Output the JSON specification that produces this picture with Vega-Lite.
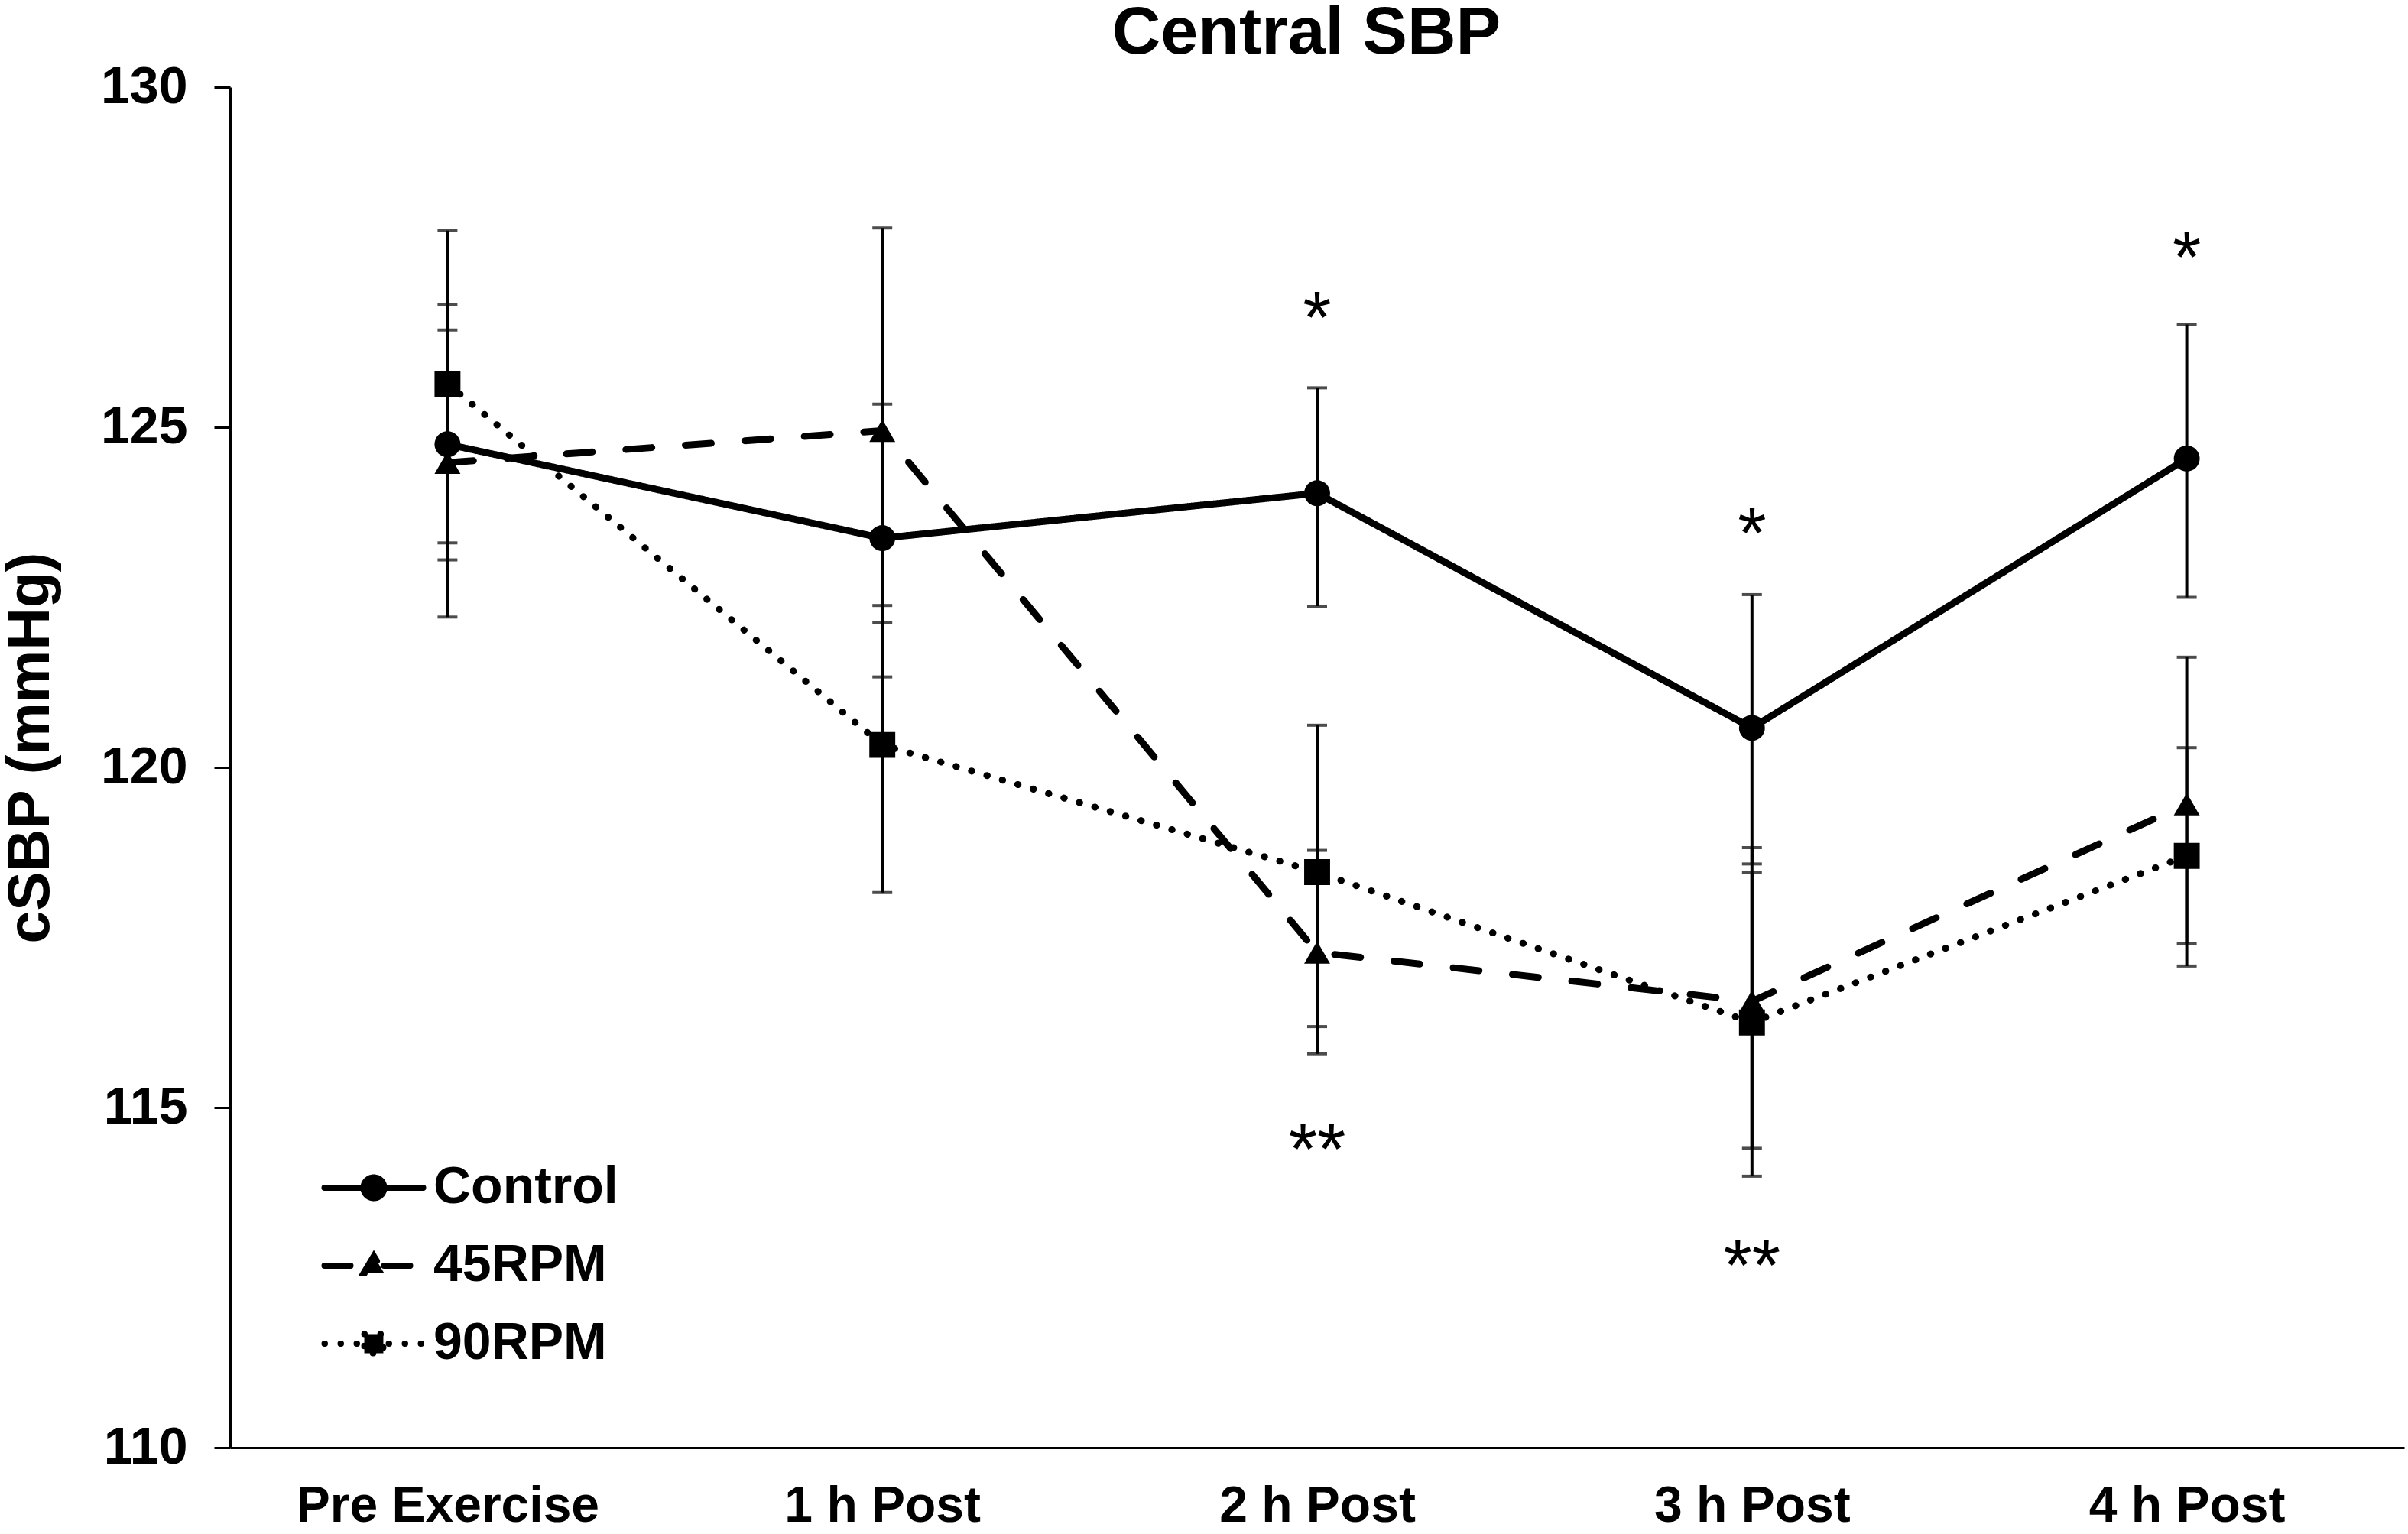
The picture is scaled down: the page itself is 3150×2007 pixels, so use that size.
{
  "$schema": "https://vega.github.io/schema/vega-lite/v6.json",
  "width": 2844,
  "height": 1780,
  "autosize": {"type": "none"},
  "padding": {"left": 301, "top": 114, "right": 5, "bottom": 113},
  "background": "white",
  "title": {
    "text": "Central SBP",
    "font": "Liberation Sans",
    "fontSize": 88,
    "fontWeight": "bold",
    "color": "black",
    "anchor": "middle",
    "offset": -8,
    "dx": -14
  },
  "datasets": {
    "sbp": [
      {"time": "Pre Exercise", "group": "Control", "mean": 124.75, "lo": 123.05, "hi": 126.43},
      {"time": "1 h Post", "group": "Control", "mean": 123.37, "lo": 121.33, "hi": 125.34},
      {"time": "2 h Post", "group": "Control", "mean": 124.03, "lo": 122.37, "hi": 125.58},
      {"time": "3 h Post", "group": "Control", "mean": 120.58, "lo": 118.58, "hi": 122.54},
      {"time": "4 h Post", "group": "Control", "mean": 124.54, "lo": 122.5, "hi": 126.51},
      {"time": "Pre Exercise", "group": "45RPM", "mean": 124.48, "lo": 122.21, "hi": 126.8},
      {"time": "1 h Post", "group": "45RPM", "mean": 124.95, "lo": 122.13, "hi": 127.93},
      {"time": "2 h Post", "group": "45RPM", "mean": 117.28, "lo": 115.79, "hi": 118.78},
      {"time": "3 h Post", "group": "45RPM", "mean": 116.56, "lo": 114.4, "hi": 118.82},
      {"time": "4 h Post", "group": "45RPM", "mean": 119.46, "lo": 117.41, "hi": 121.62},
      {"time": "Pre Exercise", "group": "90RPM", "mean": 125.64, "lo": 123.3, "hi": 127.89},
      {"time": "1 h Post", "group": "90RPM", "mean": 120.33, "lo": 118.16, "hi": 122.38},
      {"time": "2 h Post", "group": "90RPM", "mean": 118.46, "lo": 116.19, "hi": 120.62},
      {"time": "3 h Post", "group": "90RPM", "mean": 116.25, "lo": 113.99, "hi": 118.45},
      {"time": "4 h Post", "group": "90RPM", "mean": 118.7, "lo": 117.08, "hi": 120.29}
    ],
    "stars": [
      {"time": "2 h Post", "y": 126.76, "label": "*"},
      {"time": "2 h Post", "y": 114.54, "label": "**"},
      {"time": "3 h Post", "y": 123.6, "label": "*"},
      {"time": "3 h Post", "y": 112.83, "label": "**"},
      {"time": "4 h Post", "y": 127.65, "label": "*"}
    ]
  },
  "encoding": {
    "x": {
      "field": "time",
      "type": "ordinal",
      "sort": ["Pre Exercise", "1 h Post", "2 h Post", "3 h Post", "4 h Post"],
      "scale": {"type": "point", "padding": 0.5},
      "title": null,
      "axis": {
        "labelAngle": 0,
        "labelFont": "Liberation Sans",
        "labelFontSize": 66,
        "labelFontWeight": "bold",
        "labelColor": "black",
        "labelPadding": 44,
        "labelLimit": 0,
        "ticks": false,
        "domainColor": "black",
        "domainWidth": 3
      }
    }
  },
  "layer": [
    {
      "data": {"name": "sbp"},
      "mark": {"type": "rule", "color": "black", "strokeWidth": 4},
      "encoding": {
        "y": {
          "field": "lo",
          "type": "quantitative",
          "scale": {"domain": [110, 130], "nice": false, "zero": false},
          "title": "cSBP (mmHg)",
          "axis": {
            "values": [110, 115, 120, 125, 130],
            "format": "d",
            "grid": false,
            "tickSize": 21,
            "tickWidth": 3,
            "tickColor": "black",
            "domainColor": "black",
            "domainWidth": 3,
            "labelFont": "Liberation Sans",
            "labelFontSize": 68,
            "labelFontWeight": "bold",
            "labelColor": "black",
            "labelPadding": 35,
            "titleFont": "Liberation Sans",
            "titleFontSize": 77,
            "titleFontWeight": "bold",
            "titleColor": "black",
            "titlePadding": 52,
            "titleY": 864
          }
        },
        "y2": {"field": "hi"}
      }
    },
    {
      "data": {"name": "sbp"},
      "mark": {"type": "tick", "orient": "horizontal", "color": "black", "size": 26, "thickness": 4},
      "encoding": {
        "y": {"field": "lo", "type": "quantitative", "title": "cSBP (mmHg)"}
      }
    },
    {
      "data": {"name": "sbp"},
      "mark": {"type": "tick", "orient": "horizontal", "color": "black", "size": 26, "thickness": 4},
      "encoding": {
        "y": {"field": "hi", "type": "quantitative", "title": "cSBP (mmHg)"}
      }
    },
    {
      "data": {"name": "sbp"},
      "mark": {"type": "line", "color": "black", "strokeWidth": 9, "strokeCap": "round"},
      "encoding": {
        "y": {"field": "mean", "type": "quantitative", "title": "cSBP (mmHg)"},
        "strokeDash": {
          "field": "group",
          "type": "nominal",
          "scale": {"domain": ["Control", "45RPM", "90RPM"], "range": [[1, 0], [34, 44], [0.5, 20.5]]},
          "legend": {
            "title": null,
            "orient": "none",
            "legendX": 104,
            "legendY": 1406,
            "labelFont": "Liberation Sans",
            "labelFontSize": 68,
            "labelFontWeight": "bold",
            "labelColor": "black",
            "labelLimit": 0,
            "symbolType": {"expr": "datum.value === 'Control' ? 'M-4.3,0H4.3M0.9,0A0.9,0.9,0,1,1,-0.9,0A0.9,0.9,0,1,1,0.9,0Z' : datum.value === '45RPM' ? 'M-4.3,0H4.3M-0.9,0.65L0,-0.85L0.9,0.65Z' : 'M-4.3,0H4.3M-0.83,-0.83H0.83V0.83H-0.83Z'"},
            "symbolSize": 900,
            "symbolStrokeWidth": 8,
            "symbolFillColor": "black",
            "symbolStrokeColor": "black",
            "symbolOpacity": 1,
            "symbolOffset": 50,
            "labelOffset": 44,
            "rowPadding": 34,
            "encode": {
              "symbols": {
                "update": {"strokeCap": {"value": "round"}}
              }
            }
          }
        }
      }
    },
    {
      "data": {"name": "sbp"},
      "mark": {"type": "point", "filled": true, "color": "black", "size": 1150, "opacity": 1},
      "encoding": {
        "y": {"field": "mean", "type": "quantitative", "title": "cSBP (mmHg)"},
        "shape": {
          "field": "group",
          "type": "nominal",
          "scale": {"domain": ["45RPM", "90RPM", "Control"], "range": ["triangle-up", "square", "circle"]},
          "legend": null
        }
      }
    },
    {
      "data": {"name": "stars"},
      "mark": {"type": "text", "font": "Liberation Sans", "fontSize": 96, "color": "black", "baseline": "alphabetic", "dy": 46},
      "encoding": {
        "y": {"field": "y", "type": "quantitative", "title": "cSBP (mmHg)"},
        "text": {"field": "label"}
      }
    }
  ],
  "config": {
    "font": "Liberation Sans",
    "view": {"stroke": null}
  }
}
